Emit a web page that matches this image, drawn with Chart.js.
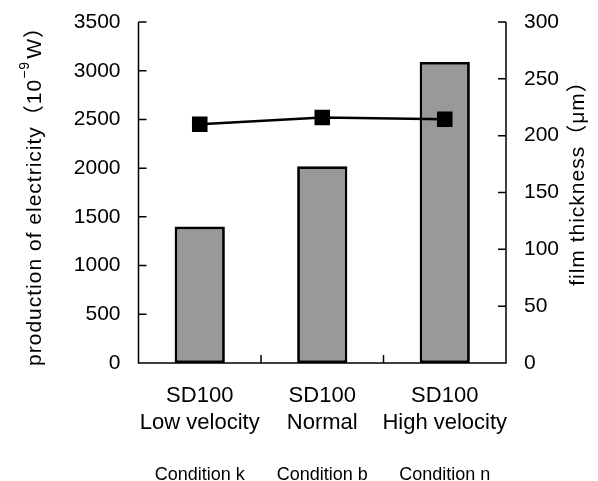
<!DOCTYPE html>
<html>
<head>
<meta charset="utf-8">
<script src="https://cdn.jsdelivr.net/npm/chart.js@4/dist/chart.umd.min.js"></script>
<style>
body { margin: 0; background: #fff; }
</style>
</head>
<body>
<canvas id="chart" width="598" height="481"></canvas>
<script>
// categories and values
let categories = [["SD100", "Low velocity"], ["SD100", "Normal"], ["SD100", "High velocity"]];
let conditions = ["Condition k", "Condition b", "Condition n"];
let power = [1400, 2020, 3090];          // production of electricity, 10^-9 W
let thickness = [210, 216, 214.5];       // film thickness, um
let powerTicks = [0, 500, 1000, 1500, 2000, 2500, 3000, 3500];
let thicknessTicks = [0, 50, 100, 150, 200, 250, 300];

const FONT = "'Liberation Sans', 'Noto Sans CJK JP', sans-serif";

// axis lines, inward tick marks and the rotated axis titles
const axisExtras = {
    id: 'axisExtras',
    afterDraw(chart) {
        let ctx = chart.ctx;
        let area = chart.chartArea;
        let y = chart.scales.y, y1 = chart.scales.y1, x = chart.scales.x;

        ctx.save();
        ctx.strokeStyle = '#000';
        ctx.lineWidth = 1.5;
        ctx.beginPath();
        ctx.moveTo(area.left, area.top);
        ctx.lineTo(area.left, area.bottom);
        ctx.lineTo(area.right, area.bottom);
        ctx.lineTo(area.right, area.top);
        powerTicks.forEach(v => {
            let py = y.getPixelForValue(v);
            ctx.moveTo(area.left, py);
            ctx.lineTo(area.left + 8, py);
        });
        thicknessTicks.forEach(v => {
            let py = y1.getPixelForValue(v);
            ctx.moveTo(area.right, py);
            ctx.lineTo(area.right - 8, py);
        });
        for (let i = 0; i < categories.length - 1; i++) {
            let px = (x.getPixelForValue(i) + x.getPixelForValue(i + 1)) / 2;
            ctx.moveTo(px, area.bottom);
            ctx.lineTo(px, area.bottom - 8);
        }
        ctx.stroke();

        // left title with superscript exponent
        ctx.fillStyle = '#000';
        ctx.textBaseline = 'middle';
        ctx.textAlign = 'left';
        ctx.letterSpacing = '1px';
        let main = "production of electricity（10";
        let sup = "−9";
        let tail = "W）";
        ctx.font = "21px " + FONT;
        let wMain = ctx.measureText(main).width;
        let wTail = ctx.measureText(tail).width;
        ctx.font = "14px " + FONT;
        let wSup = ctx.measureText(sup).width + 2;
        let total = wMain + wSup + wTail;

        ctx.save();
        ctx.translate(35, 191);
        ctx.rotate(-Math.PI / 2);
        ctx.font = "21px " + FONT;
        ctx.fillText(main, -total / 2, 0);
        ctx.font = "14px " + FONT;
        ctx.fillText(sup, -total / 2 + wMain, -10);
        ctx.font = "21px " + FONT;
        ctx.fillText(tail, -total / 2 + wMain + wSup, 0);
        ctx.restore();

        // right title
        ctx.save();
        ctx.translate(578, 178);
        ctx.rotate(-Math.PI / 2);
        ctx.textAlign = 'center';
        ctx.font = "21px " + FONT;
        ctx.fillText("film thickness（μm）", 0, 0);
        ctx.restore();

        ctx.restore();
    }
};

const tickLabel = v => String(v);

// fixed axis width, and no extra room above/below for the end labels
function fitWidth(w) {
    return scale => {
        scale.width = w;
        scale.paddingTop = 0;
        scale.paddingBottom = 0;
    };
}

new Chart(document.getElementById("chart"), {
    data: {
        labels: categories,
        datasets: [
            {
                type: 'line',
                label: 'film thickness',
                data: thickness,
                yAxisID: 'y1',
                borderColor: '#000',
                borderWidth: 2.5,
                pointStyle: 'rect',
                pointRadius: 11,
                pointBackgroundColor: '#000',
                pointBorderColor: '#000',
                pointBorderWidth: 0,
                order: 0
            },
            {
                type: 'bar',
                label: 'production of electricity',
                data: power,
                yAxisID: 'y',
                backgroundColor: '#999999',
                borderColor: '#000',
                borderWidth: 2.8,
                borderSkipped: false,
                categoryPercentage: 1,
                barPercentage: 0.41,
                order: 1
            }
        ]
    },
    options: {
        responsive: false,
        animation: false,
        layout: { padding: { top: 22, left: 0, right: 0, bottom: 0 } },
        plugins: {
            legend: { display: false },
            tooltip: { enabled: false }
        },
        scales: {
            x: {
                position: 'bottom',
                grid: { display: false, drawTicks: false },
                border: { display: false },
                ticks: {
                    color: '#000',
                    font: { family: FONT, size: 22, lineHeight: 1.23 },
                    padding: 19,
                    maxRotation: 0,
                    autoSkip: false
                },
                afterFit(scale) { scale.height = 80; }
            },
            x2: {
                type: 'category',
                position: 'bottom',
                offset: true,
                labels: conditions,
                grid: { display: false, drawTicks: false },
                border: { display: false },
                ticks: {
                    color: '#000',
                    font: { family: FONT, size: 18 },
                    padding: 21,
                    maxRotation: 0,
                    autoSkip: false
                },
                afterFit(scale) { scale.height = 38; }
            },
            y: {
                position: 'left',
                min: 0,
                max: 3500,
                grid: { display: false, drawTicks: false },
                border: { display: false },
                afterBuildTicks(scale) { scale.ticks = powerTicks.map(v => ({ value: v })); },
                ticks: {
                    color: '#000',
                    font: { family: FONT, size: 21 },
                    padding: 18,
                    callback: tickLabel
                },
                afterFit: fitWidth(138.5)
            },
            y1: {
                position: 'right',
                min: 0,
                max: 300,
                grid: { display: false, drawTicks: false },
                border: { display: false },
                afterBuildTicks(scale) { scale.ticks = thicknessTicks.map(v => ({ value: v })); },
                ticks: {
                    color: '#000',
                    font: { family: FONT, size: 21 },
                    padding: 18,
                    callback: tickLabel
                },
                afterFit: fitWidth(92)
            }
        }
    },
    plugins: [axisExtras]
});
</script>
</body>
</html>
